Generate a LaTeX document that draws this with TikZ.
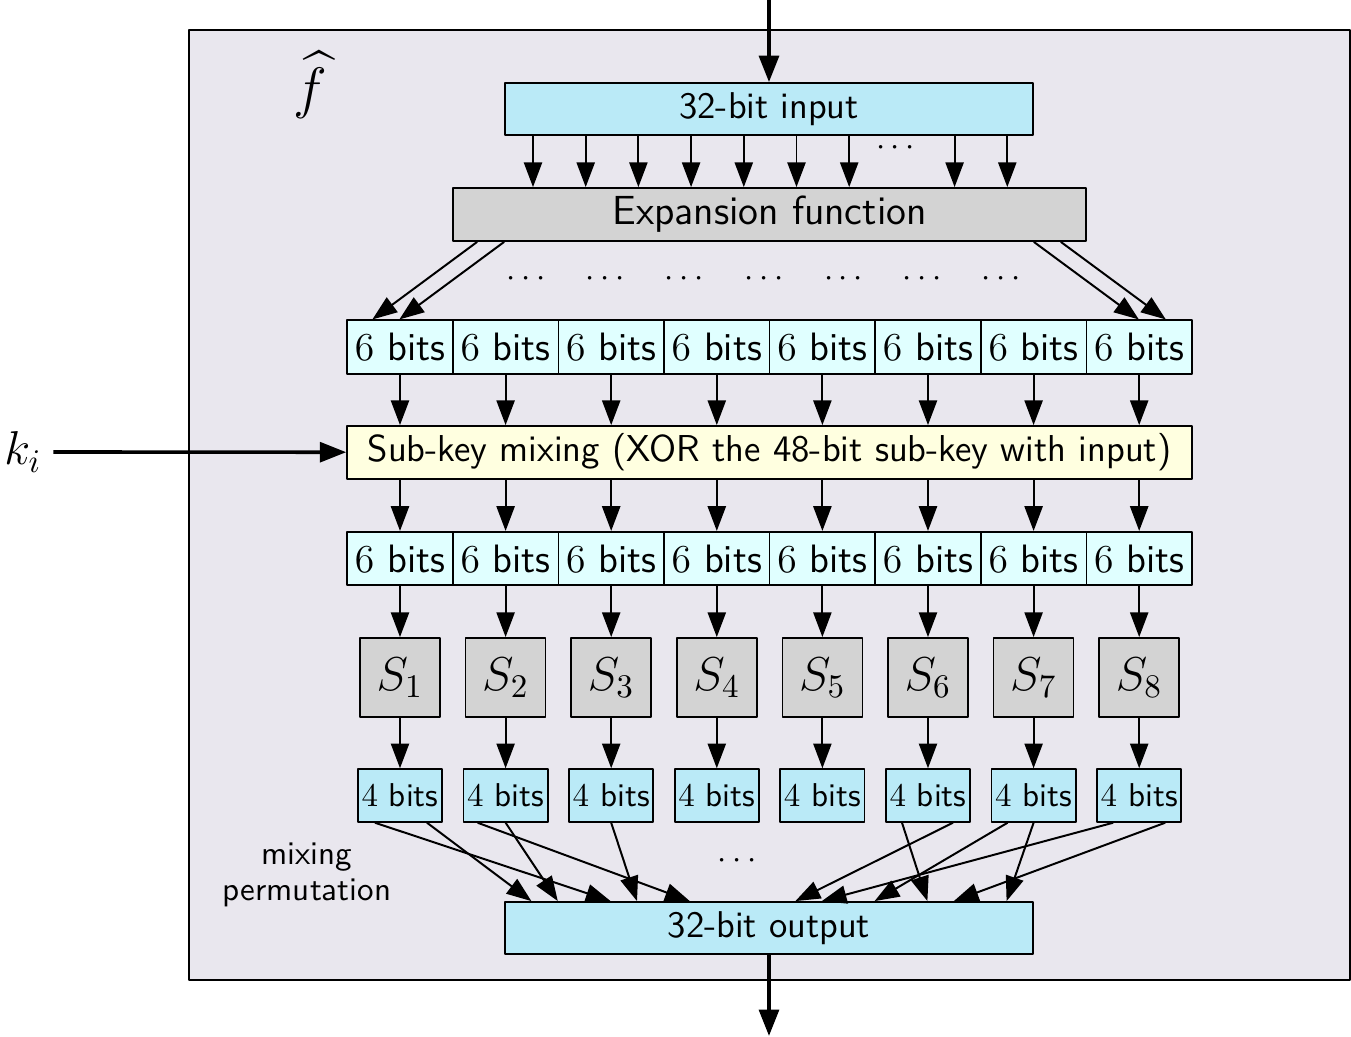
\documentclass[tikz,border=0pt]{standalone}
\usepackage{amsmath,amssymb}
\usetikzlibrary{arrows.meta,calc,positioning}
\definecolor{framebg}{RGB}{233,231,238}
\definecolor{inblue}{RGB}{186,234,247}
\definecolor{sixcyan}{RGB}{224,255,255}
\definecolor{keyyellow}{RGB}{255,255,224}
\definecolor{boxgray}{RGB}{211,211,211}

\begin{document}
\begin{tikzpicture}[x=0.303pt, y=-0.303pt, line join=round,
  every node/.style={font=\sffamily},
  plainbox/.style={draw, line width=0.5pt, inner sep=0pt},
  iobox/.style={plainbox, fill=inblue, minimum width=160pt, minimum height=15.8pt, font=\sffamily\fontsize{11.3}{13}\selectfont},
  expbox/.style={plainbox, fill=boxgray, minimum width=191.8pt, minimum height=16.1pt, font=\sffamily\fontsize{12.3}{14}\selectfont},
  keybox/.style={plainbox, fill=keyyellow, minimum width=256pt, minimum height=16.1pt, font=\sffamily\fontsize{11.35}{13}\selectfont},
  sixbox/.style={plainbox, fill=sixcyan, minimum width=32pt, minimum height=16.2pt, font=\sffamily\large},
  sbox/.style={plainbox, fill=boxgray, minimum width=24.2pt, minimum height=24pt, font=\Large},
  fourbox/.style={plainbox, fill=inblue, minimum width=25.5pt, minimum height=16pt, font=\sffamily},
  arr/.style={-{Triangle[length=7.5pt,width=5.5pt]}, line width=0.6pt},
  bigarr/.style={-{Triangle[length=8pt,width=6pt]}, line width=1.1pt}]
\useasboundingbox (0,0) rectangle (1351,1037);
% frame of the round function
\draw[line width=0.6pt, fill=framebg] (189,30) rectangle (1350,980);
\node (fhat) at (310,85) {\LARGE$\widehat{f}$};

% input and expansion
\node[iobox] (in) at (769,109) {32-bit input};
\node[expbox] (exp) at (769.5,214.5) {Expansion function};
\coordinate (top) at (769,0);
\draw[bigarr] (top) -- (in);
\foreach \k in {0,...,6,8,9} {
  \draw[arr] (in.south -| {533+52.7*\k},0) -- (exp.north -| {533+52.7*\k},0);
}
\node (topdots) at (898,148) {$\cdots$};

% sub-key mixing and S-boxes
\node[keybox] (key) at (769.5,452.5) {Sub-key mixing (XOR the 48-bit sub-key with input)};
\foreach \i in {1,...,8} {
  \pgfmathsetmacro\cx{400+105.6*(\i-1)}
  \node[sixbox] (a\i) at (\cx,347) {$6$ bits};
  \node[sixbox] (b\i) at (\cx,558.5) {$6$ bits};
  \node[sbox] (s\i) at (\cx,677.5) {$S_{\i}$};
  \node[fourbox] (f\i) at (\cx,795.5) {$4$ bits};
  \draw[arr] (a\i.south) -- (a\i.south |- key.north);
  \draw[arr] (b\i.north |- key.south) -- (b\i.north);
  \draw[arr] (b\i) -- (s\i);
  \draw[arr] (s\i) -- (f\i);
}
\draw[arr] ($(exp.south west)+(25,0)$) -- ($(a1.north west)+(26,0)$);
\draw[arr] ($(exp.south west)+(52,0)$) -- ($(a1.north west)+(53,0)$);
\draw[arr] ($(exp.south east)+(-53,0)$) -- ($(a8.north east)+(-54,0)$);
\draw[arr] ($(exp.south east)+(-26,0)$) -- ($(a8.north east)+(-27,0)$);
\foreach \x in {529,608,687,767,846,925,1004} {
  \node at (\x,279) {$\cdots$};
}

\node (ki) at (23,452) {\Large$k_i$};
\draw[bigarr] (ki) -- (key);

% permutation to the output
\node[iobox] (out) at (769,928) {32-bit output};
\coordinate (bot) at (769,1036);
\draw[bigarr] (out) -- (bot);
\foreach \b/\o/\t in {1/-25/-6, 1/27/-9, 2/-28/-3, 2/0/-8, 3/0/-5,
                      6/-26/6, 6/25/1, 7/-26/4, 7/0/9, 8/-26/2, 8/26/7} {
  \draw[arr] ($(f\b.south)+(\o,0)$) -- ($(out.north)+(26.4*\t,0)$);
}
\node (middots) at (740,861) {$\cdots$};
\node[align=center] (mix) at (307,875) {mixing\\[-1pt]permutation};
\end{tikzpicture}
\end{document}
